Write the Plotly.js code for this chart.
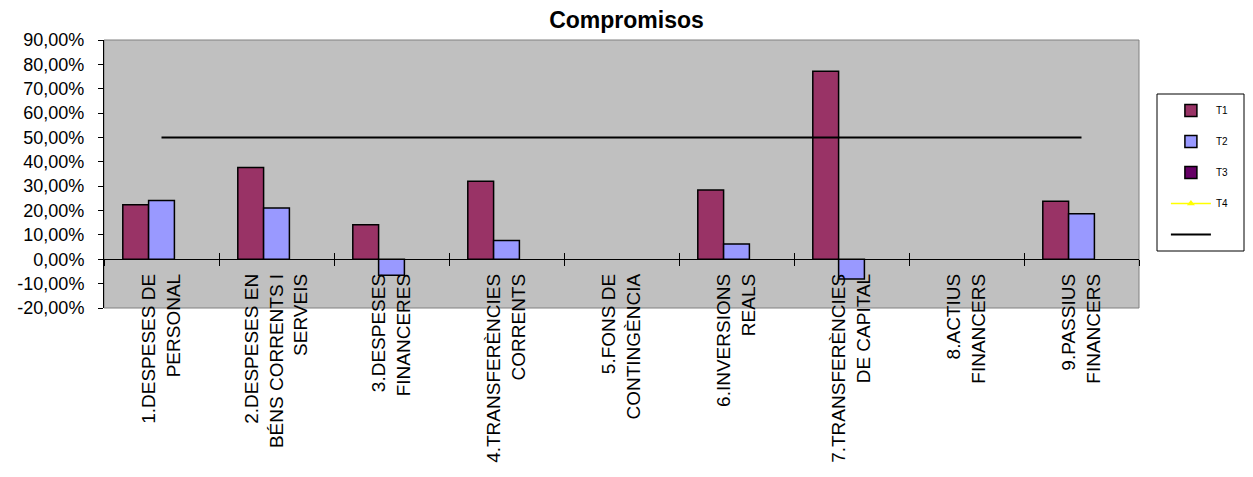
<!DOCTYPE html>
<html><head><meta charset="utf-8">
<script src="https://cdn.plot.ly/plotly-3.0.1.min.js"></script>
<style>body{margin:0;padding:0;background:#fff}#chart{width:1253px;height:477px}</style>
</head><body><div id="chart"></div>
<script>
const categories = [
  "1.DESPESES DE<br>PERSONAL",
  "2.DESPESES EN<br>BÉNS CORRENTS I<br>SERVEIS",
  "3.DESPESES<br>FINANCERES",
  "4.TRANSFERÈNCIES<br>CORRENTS",
  "5.FONS DE<br>CONTINGÈNCIA",
  "6.INVERSIONS<br>REALS",
  "7.TRANSFERÈNCIES<br>DE CAPITAL",
  "8.ACTIUS<br>FINANCERS",
  "9.PASSIUS<br>FINANCERS"
];
const t1 = [0.224, 0.377, 0.142, 0.320, null, 0.284, 0.772, null, 0.238];
const t2 = [0.241, 0.210, -0.066, 0.077, null, 0.063, -0.081, null, 0.187];
const t3 = [null, null, null, null, null, null, null, null, null];
const t4 = [null, null, null, null, null, null, null, null, null];
const target = [0.5, 0.5, 0.5, 0.5, 0.5, 0.5, 0.5, 0.5, 0.5];
const yTickVals = [-0.2, -0.1, 0, 0.1, 0.2, 0.3, 0.4, 0.5, 0.6, 0.7, 0.8, 0.9];
const yTickText = ["-20,00%", "-10,00%", "0,00%", "10,00%", "20,00%", "30,00%", "40,00%", "50,00%", "60,00%", "70,00%", "80,00%", "90,00%"];

const barLine = {color: '#000000', width: 1.5};
const traces = [
  {type: 'bar', name: 'T1', x: categories, y: t1, marker: {color: '#993366', line: barLine}, legendgroup: 'a'},
  {type: 'bar', name: 'T2', x: categories, y: t2, marker: {color: '#9999FF', line: barLine}, legendgroup: 'b'},
  {type: 'bar', name: 'T3', x: categories, y: t3, marker: {color: '#660066', line: barLine}, legendgroup: 'c'},
  {type: 'scatter', mode: 'lines+markers', name: 'T4', x: categories, y: t4,
   line: {color: '#FFFF00', width: 1.5}, marker: {symbol: 'triangle-up', color: '#FFFF00', size: 7}, legendgroup: 'd'},
  {type: 'scatter', mode: 'lines', name: ' ', x: categories, y: target,
   line: {color: '#000000', width: 2}, legendgroup: 'e'}
];

const ff = 'Liberation Sans, Arial, sans-serif';
const layout = {
  width: 1253, height: 477,
  margin: {l: 104, r: 114, t: 40, b: 169, pad: 0},
  paper_bgcolor: '#FFFFFF',
  plot_bgcolor: '#C0C0C0',
  font: {family: ff, size: 16, color: '#000'},
  title: {text: '<b>Compromisos</b>', font: {family: ff, size: 23, color: '#000'},
          x: 0.5, xref: 'container', y: 1 - 20/477, yref: 'container', yanchor: 'middle'},
  barmode: 'group', bargap: 0.327, bargroupgap: 0,
  showlegend: true,
  legend: {x: 1.026, xanchor: 'left', y: 0.791, yanchor: 'top', bgcolor: 'rgba(0,0,0,0)',
           borderwidth: 0, font: {family: ff, size: 10, color: '#000'},
           tracegroupgap: 12, itemwidth: 40, traceorder: 'grouped'},
  xaxis: {type: 'category', range: [-0.5, 8.5], anchor: 'free', position: 20/110,
          showline: true, linecolor: '#000000', linewidth: 1, showgrid: false, zeroline: false,
          ticks: 'outside', ticklen: 6, tickcolor: '#000', tickson: 'boundaries',
          tickangle: -90, tickfont: {family: ff, size: 19, color: '#000'}, ticklabelstandoff: 6, fixedrange: true},
  xaxis2: {type: 'category', matches: 'x', overlaying: 'x', anchor: 'free', position: 20/110,
           showline: false, showgrid: false, zeroline: false, ticks: 'inside', ticklen: 6,
           tickcolor: '#000', tickson: 'boundaries', showticklabels: false},
  yaxis: {range: [-0.2, 0.9], tickvals: yTickVals, ticktext: yTickText, ticks: 'outside', ticklen: 5,
          tickcolor: '#000', showline: true, linecolor: '#000000', linewidth: 1,
          showgrid: false, zeroline: false, tickfont: {family: ff, size: 18, color: '#000'},
          ticklabelstandoff: 10, fixedrange: true},
  shapes: [
    {type: 'rect', xref: 'paper', yref: 'paper', x0: 0, x1: 1, y0: 0, y1: 1,
     line: {color: '#808080', width: 1}, layer: 'below'},
    {type: 'rect', xref: 'paper', yref: 'paper',
     x0: (1157 - 104) / 1035, x1: (1244 - 104) / 1035, y0: (308 - 251) / 268, y1: (308 - 94) / 268,
     line: {color: '#000000', width: 1}, fillcolor: '#FFFFFF', layer: 'below'}
  ]
};
traces.push({type: 'scatter', x: categories, y: t4, xaxis: 'x2', showlegend: false, hoverinfo: 'skip'});
Plotly.newPlot('chart', traces, layout, {displayModeBar: false, staticPlot: true});
</script></body></html>
